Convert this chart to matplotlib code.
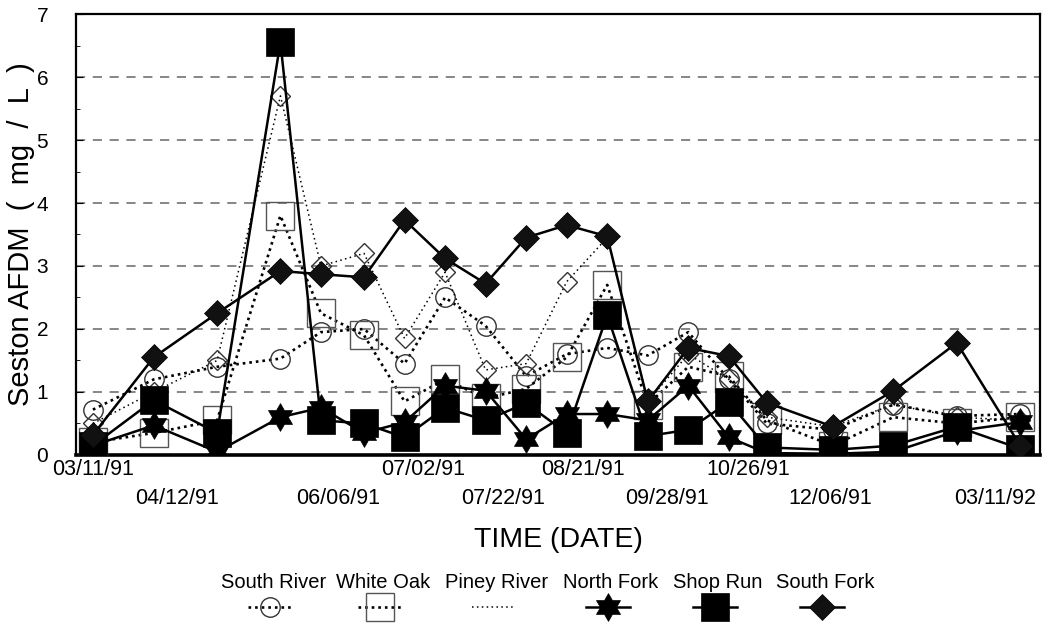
import matplotlib
matplotlib.use("Agg")
import matplotlib.pyplot as plt
import pandas as pd
from matplotlib.path import Path
from matplotlib.lines import Line2D

plt.rcParams['font.family'] = ['Liberation Sans', 'DejaVu Sans']

# sampling dates (first to last collection)
sample_dates = ['1991-03-11', '1991-04-04', '1991-04-29', '1991-05-24', '1991-06-09',
                '1991-06-26', '1991-07-12', '1991-07-28', '1991-08-13', '1991-08-29',
                '1991-09-14', '1991-09-30', '1991-10-16', '1991-11-01', '1991-11-17',
                '1991-12-02', '1991-12-28', '1992-01-21', '1992-02-15', '1992-03-11']

# seston AFDM, mg/L
south_river = [0.72, 1.20, 1.40, 1.53, 1.95, 2.00, 1.45, 2.50, 2.05, 1.25,
               1.60, 1.70, 1.58, 1.95, 1.20, 0.50, 0.40, 0.80, 0.62, 0.65]
white_oak = [0.20, 0.35, 0.55, 3.80, 2.25, 1.90, 0.85, 1.20, 0.90, 1.05,
             1.55, 2.70, 0.80, 1.40, 1.25, 0.55, 0.15, 0.60, 0.50, 0.60]
piney_river = [0.50, 1.00, 1.50, 5.70, 3.00, 3.20, 1.85, 2.90, 1.35, 1.45,
               2.75, 3.45, 0.85, 1.60, 1.20, 0.60, 0.45, 0.80, 0.60, 0.55]
north_fork = [0.15, 0.47, 0.05, 0.60, 0.75, 0.35, 0.52, 1.10, 1.02, 0.25,
              0.65, 0.65, 0.55, 1.10, 0.28, 0.03, 0.02, 0.05, 0.38, 0.52]
shop_run = [0.15, 0.87, 0.35, 6.55, 0.55, 0.50, 0.28, 0.75, 0.55, 0.82,
            0.35, 2.22, 0.30, 0.40, 0.84, 0.12, 0.08, 0.15, 0.45, 0.10]
south_fork = [0.32, 1.55, 2.25, 2.92, 2.87, 2.82, 3.73, 3.12, 2.72, 3.45,
              3.65, 3.47, 0.85, 1.70, 1.57, 0.83, 0.45, 1.02, 1.78, 0.15]

names = ['South River', 'White Oak', 'Piney River', 'North Fork', 'Shop Run', 'South Fork']

# date labels under the axis, two staggered rows (positions in days from first sample)
upper_labels = ['03/11/91', '07/02/91', '08/21/91', '10/26/91']
upper_pos = [0, 130.3, 193.4, 258.6]
lower_labels = ['04/12/91', '06/06/91', '07/22/91', '09/28/91', '12/06/91', '03/11/92']
lower_pos = [33.2, 96.7, 161.9, 226.6, 291, 356.1]

t0 = pd.Timestamp(sample_dates[0])
days = [(pd.Timestamp(d) - t0).days for d in sample_dates]

hexstar = Path.unit_regular_star(6, innerCircle=0.577)

dots = (0, (1, 1.5))
styles = [
    dict(ls=dots, lw=1.9, marker='o', ms=14, mfc='none', mec='#333333', mew=1.0),
    dict(ls=dots, lw=1.9, marker='s', ms=20, mfc='none', mec='#555555', mew=1.0),
    dict(ls=(0, (1, 2.2)), lw=1.1, marker='D', ms=10, mfc='none', mec='#333333', mew=1.0),
    dict(ls='-', lw=1.8, marker=hexstar, ms=20, mfc='black', mec='black', mew=0.5),
    dict(ls='-', lw=1.8, marker='s', ms=20, mfc='black', mec='black', mew=0.5),
    dict(ls='-', lw=1.8, marker='D', ms=13.5, mfc='#111111', mec='black', mew=0.5),
]
series = [south_river, white_oak, piney_river, north_fork, shop_run, south_fork]

fig = plt.figure(figsize=(10.48, 6.26), dpi=100)
ax = fig.add_axes([0.0725, 0.2732, 0.92, 0.7044])

for vals, st in zip(series, styles):
    ax.plot(days, vals, color='black', zorder=3, **st)

ax.set_xlim(-6.7, 373.9)
ax.set_ylim(0, 7)
ax.set_yticks(range(8))
ax.set_yticks([i + 0.5 for i in range(7)], minor=True)
ax.yaxis.grid(True, which='major', ls=(0, (6, 5)), color='#666666', lw=1.1)
ax.tick_params(axis='y', which='major', direction='in', length=5, pad=20, labelsize=15)
ax.tick_params(axis='y', which='minor', direction='in', length=3)

ax.set_xticks(upper_pos, upper_labels)
ax.set_xticks(lower_pos, lower_labels, minor=True)
ax.tick_params(axis='x', which='major', length=0, pad=3, labelsize=15.5)
ax.tick_params(axis='x', which='minor', length=0, pad=24, labelsize=15.5)

for side in ['left', 'right', 'top']:
    ax.spines[side].set_linewidth(1.6)
ax.spines['bottom'].set_linewidth(2.6)

ax.set_ylabel('Seston AFDM  (  mg  /  L  )', fontsize=21, labelpad=1)
ax.set_xlabel('TIME (DATE)', fontsize=20.5, labelpad=13)

# legend: name on top, line sample underneath
centers = [0.261, 0.366, 0.474, 0.583, 0.685, 0.787]
for name, st, xc in zip(names, styles, centers):
    fig.text(xc, 0.069, name, ha='center', va='center', fontsize=14.5)
    hx = xc - 0.003
    fig.add_artist(Line2D([hx - 0.021, hx + 0.021], [0.030, 0.030], transform=fig.transFigure,
                          color='black', ls=st['ls'], lw=st['lw']))
    if name != 'Piney River':
        fig.add_artist(Line2D([hx], [0.030], transform=fig.transFigure, ls='none',
                              marker=st['marker'], ms=st['ms'], mfc=st['mfc'],
                              mec=st['mec'], mew=st['mew']))

fig.savefig('out.png', dpi=100)
